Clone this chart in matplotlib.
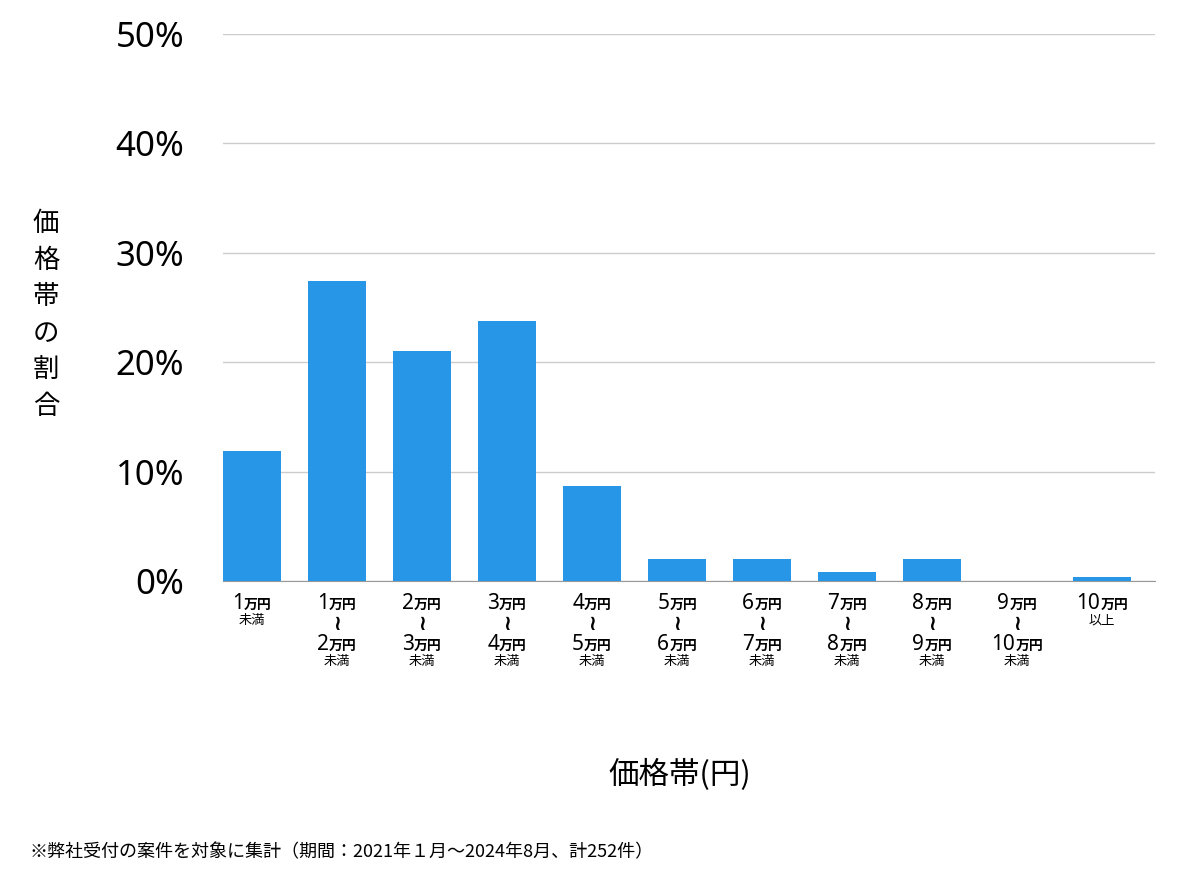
import matplotlib
matplotlib.use("Agg")
import matplotlib.pyplot as plt
from matplotlib.offsetbox import TextArea, HPacker, VPacker, AnnotationBbox
from matplotlib.transforms import blended_transform_factory

plt.rcParams["font.family"] = "Noto Sans CJK JP"

lows = ["1", "1", "2", "3", "4", "5", "6", "7", "8", "9", "10"]
highs = [None, "2", "3", "4", "5", "6", "7", "8", "9", "10", None]
values = [11.9, 27.4, 21.0, 23.8, 8.7, 2.0, 2.0, 0.8, 2.0, 0.0, 0.4]
yticks = [0, 10, 20, 30, 40, 50]

fig = plt.figure(figsize=(12, 8.74), dpi=100)
ax = fig.add_axes([223/1200, 1-581/874, 932/1200, 547/874])
x = range(len(values))
ax.bar(x, values, width=0.68, color="#2896e6", zorder=3)
ax.set_xlim(-0.34, 10.62)
ax.set_ylim(0, 50)
ax.set_yticks(yticks)
ax.set_yticklabels([f"{v}%" for v in yticks], fontsize=25, fontweight="bold",
                   fontfamily="Noto Sans")
ax.tick_params(axis="y", length=0, pad=28)
ax.tick_params(axis="x", length=0, labelbottom=False)
ax.grid(axis="y", color="#cccccc", lw=1, zorder=0)
for s in ["top", "right", "left"]:
    ax.spines[s].set_visible(False)
ax.spines["bottom"].set_color("#999999")

def price(num):
    return HPacker(children=[
        TextArea(num, textprops=dict(fontsize=15, fontweight="bold", fontfamily="Noto Sans")),
        TextArea("万円", textprops=dict(fontsize=10, fontweight="bold"))],
        pad=0, sep=0, align="baseline")

def small(t):
    return TextArea(t, textprops=dict(fontsize=9.5))

tr = blended_transform_factory(ax.transData, ax.transAxes)
for i, (lo, hi) in enumerate(zip(lows, highs)):
    if hi is None:
        kids = [price(lo), small("未満" if i == 0 else "以上")]
    else:
        kids = [price(lo),
                TextArea("≀", textprops=dict(fontsize=15, fontweight="bold",
                                             fontfamily="DejaVu Sans")),
                price(hi), small("未満")]
    box = VPacker(children=kids, pad=0, sep=0, align="center")
    ab = AnnotationBbox(box, (i, -0.022), xycoords=tr, box_alignment=(0.5, 1),
                        frameon=False, pad=0, annotation_clip=False)
    ax.add_artist(ab)

fig.text(680/1200, 1-775/874, "価格帯(円)", fontsize=22, ha="center", va="center")
fig.text(46/1200, 1-315/874, "\n".join("価格帯の割合"), fontsize=19, ha="center",
         va="center", linespacing=1.45)
fig.text(30/1200, 1-852/874, "※弊社受付の案件を対象に集計（期間：2021年１月〜2024年8月、計252件）",
         fontsize=13, ha="left", va="center")
fig.savefig("out.png", dpi=100)
